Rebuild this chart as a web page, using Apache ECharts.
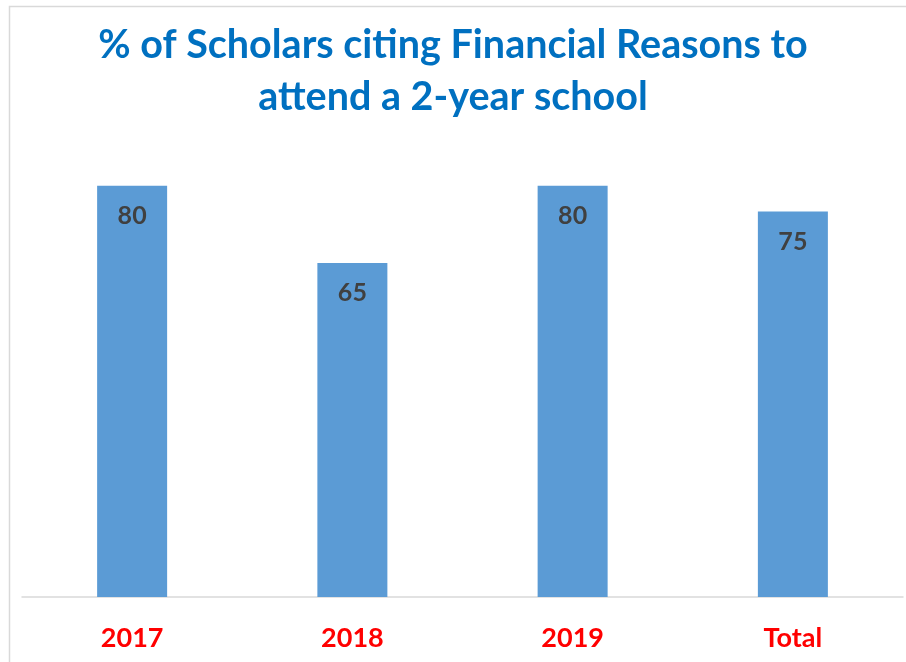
<!DOCTYPE html>
<html>
<head>
<meta charset="utf-8">
<script src="https://cdn.jsdelivr.net/npm/echarts@6/dist/echarts.min.js"></script>
<style>html,body{margin:0;padding:0;background:#fff;}#chart{width:906px;height:662px;}</style>
</head>
<body>
<div id="chart"></div>
<script>
const titleLines = ["% of Scholars citing Financial Reasons to", "attend a 2-year school"];
const categories = ["2017", "2018", "2019", "Total"];
const values = [80, 65, 80, 75];

const chart = echarts.init(document.getElementById('chart'), null, {renderer: 'canvas'});
const FONT = 'Lato, "Open Sans", sans-serif';
chart.setOption({
  animation: false,
  backgroundColor: '#ffffff',
  title: {
    text: titleLines.join('\n'),
    left: 'center',
    top: 14,
    textStyle: {color: '#0070C0', fontFamily: FONT, fontWeight: 'bold', fontSize: 39.5, lineHeight: 52}
  },
  graphic: [{
    type: 'rect', left: 7, top: 4, z: -1,
    shape: {width: 1000, height: 1000},
    style: {fill: 'none', stroke: '#d9d9d9', lineWidth: 1.5}
  }],
  grid: {left: 22, right: 3, top: 83, bottom: 65, containLabel: false},
  xAxis: {
    type: 'category',
    data: categories,
    axisLine: {lineStyle: {color: '#d9d9d9', width: 1.5}},
    axisTick: {show: false},
    axisLabel: {color: '#FF0000', fontFamily: FONT, fontWeight: 'bold', fontSize: 27, margin: 28}
  },
  yAxis: {
    type: 'value', min: 0, max: 100,
    show: false,
    splitLine: {show: false}
  },
  series: [{
    type: 'bar',
    data: values,
    barWidth: 70,
    itemStyle: {color: '#5B9BD5'},
    label: {show: true, position: 'insideTop', distance: 18, color: '#404040', fontFamily: FONT, fontWeight: 'bold', fontSize: 25}
  }]
});
</script>
</body>
</html>
